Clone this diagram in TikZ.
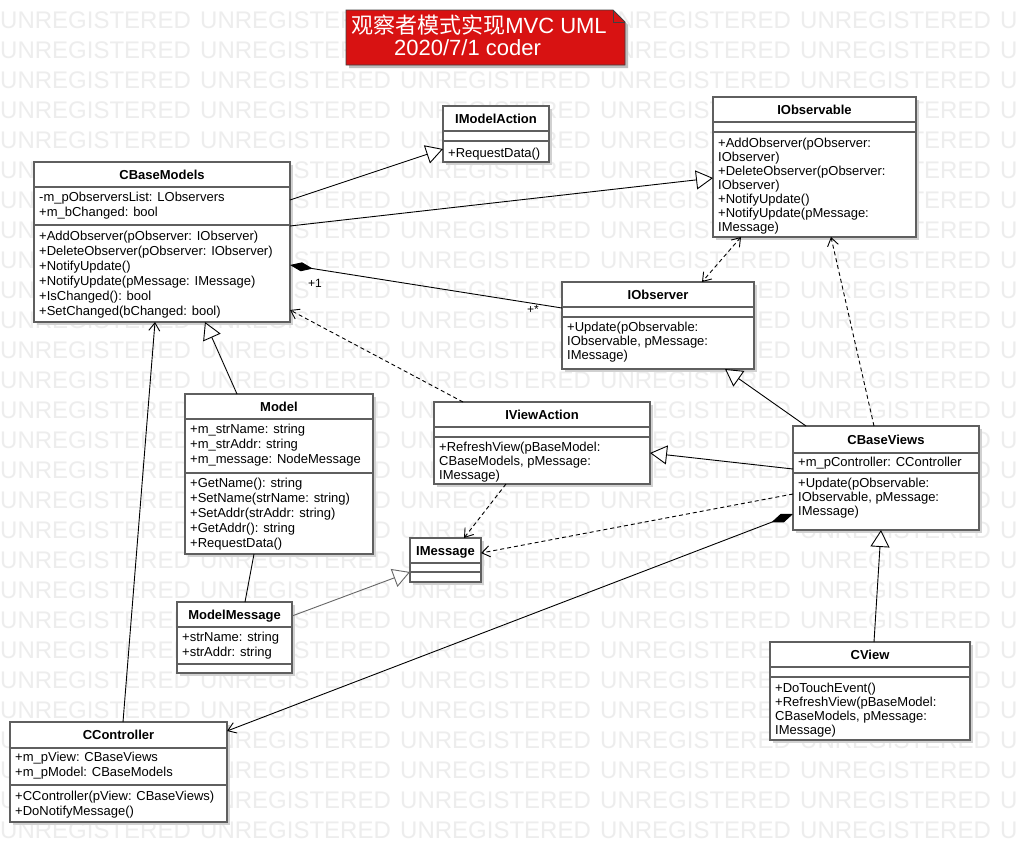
\documentclass[tikz,border=0pt]{standalone}
\usepackage{fontspec}
\setmainfont{Liberation Sans}
\newfontfamily\cjk{Noto Sans CJK SC}
\usetikzlibrary{arrows.meta,shadows,calc}

\definecolor{wm}{RGB}{237,237,237}
\definecolor{boxline}{RGB}{95,95,95}
\definecolor{notered}{RGB}{216,18,18}

\tikzset{
  clsbox/.style={draw=boxline, line width=1.3pt, fill=white, inner sep=0pt, outer sep=0pt,
    drop shadow={shadow xshift=3pt, shadow yshift=-3pt, fill=black!18, opacity=1}},
  sepl/.style={draw=boxline, line width=1.3pt},
  memtext/.style={font=\fontsize{13}{15}\selectfont, inner sep=0pt, anchor=base west},
  hdrtext/.style={font=\fontsize{13}{15}\selectfont\bfseries, inner sep=0pt, anchor=base},
  wmtext/.style={font=\fontsize{24}{26}\selectfont, text=wm, inner sep=0pt, anchor=base west},
  titletext/.style={font=\fontsize{22}{24}\selectfont, text=white, inner sep=0pt, anchor=base},
  lbl/.style={font=\fontsize{12}{14}\selectfont, inner sep=0pt},
  conn/.style={draw=black, line width=0.9pt},
  realz/.style={conn, -{Triangle[length=17pt,width=19pt,fill=white]}},
  dep/.style={conn, dash pattern=on 4pt off 3pt, -{Straight Barb[length=8pt,width=11pt]}},
  dep2/.style={conn, dash pattern=on 4pt off 3pt, {Straight Barb[length=8pt,width=11pt]}-{Straight Barb[length=8pt,width=11pt]}},
  assoc/.style={conn, -{Straight Barb[length=8pt,width=11pt]}},
  compo/.style={conn, {Diamond[length=23pt,width=9pt]}-},
  compoarr/.style={conn, {Diamond[length=23pt,width=9pt]}-{Straight Barb[length=8pt,width=11pt]}},
}

\newcommand{\umlclass}[5]{%
  \node[clsbox, minimum width={(#4-#2)*1pt}, minimum height={(#5-#3)*1pt}] (#1) at ({(#2+#4)/2},{(#3+#5)/2}) {};}
\newcommand{\sepline}[2]{\draw[sepl] (#1.west |- 0,#2) -- (#1.east |- 0,#2);}
\newcommand{\hdr}[3]{\node[hdrtext] (#1-name) at (#1.center |- 0,#2) {#3};}
\newcommand{\members}[5]{%
  \foreach \t [count=\i from 0] in {#5}{%
    \node[memtext] (#1-\i) at ($(#2.west |- 0,#3)+(5,{#4*\i})$) {\t};}}

\begin{document}
\begin{tikzpicture}[x=1pt,y=-1pt]
\useasboundingbox (0,0) rectangle (1019,862);
\fill[white] (0,0) rectangle (1019,862);

% watermark
\foreach \r in {0,...,27}{\foreach \c in {0,...,5}{%
  \node[wmtext] (wm-\r-\c) at ({\c*200},{28+30*\r}) {UNREGISTERED};}}

% title note
\fill[black!25] (349,13) -- (616,13) -- (628,25) -- (628,68) -- (349,68) -- cycle;
\draw[draw=black!75, fill=notered, line width=0.8pt] (346,10) -- (613,10) -- (625,22) -- (625,65) -- (346,65) -- cycle;
\draw[draw=black!75, line width=0.8pt] (613,10) -- (613,22) -- (625,22);
\node[titletext] (t1) at (479,33.5) {{\cjk 观察者模式实现}MVC UML};
\node[titletext] (t2) at (467.5,55) {2020/7/1 coder};

% IModelAction
\umlclass{ima}{443}{106}{549}{162}
\sepline{ima}{131}\sepline{ima}{141}
\hdr{ima}{123.2}{IModelAction}
\members{imam}{ima}{157}{15}{+RequestData()}

% CBaseModels
\umlclass{cbm}{34}{162}{290}{322}
\sepline{cbm}{187}\sepline{cbm}{225}
\hdr{cbm}{179.2}{CBaseModels}
\members{cbma}{cbm}{201.5}{15}{-m\_pObserversList: LObservers,+m\_bChanged: bool}
\members{cbmm}{cbm}{240.5}{15}{+AddObserver(pObserver: IObserver),+DeleteObserver(pObserver: IObserver),+NotifyUpdate(),+NotifyUpdate(pMessage: IMessage),+IsChanged(): bool,+SetChanged(bChanged: bool)}

% IObservable
\umlclass{iob}{713}{97}{916}{237}
\sepline{iob}{122}\sepline{iob}{132}
\hdr{iob}{114.2}{IObservable}
\members{iobm}{iob}{147}{14.1}{+AddObserver(pObserver:,IObserver),+DeleteObserver(pObserver:,IObserver),+NotifyUpdate(),+NotifyUpdate(pMessage:,IMessage)}

% IObserver
\umlclass{ior}{562}{282}{754}{369}
\sepline{ior}{307}\sepline{ior}{317}
\hdr{ior}{299.2}{IObserver}
\members{iorm}{ior}{331.5}{14}{+Update(pObservable:,{IObservable, pMessage:},IMessage)}

% Model
\umlclass{mdl}{185}{394}{373}{554}
\sepline{mdl}{419}\sepline{mdl}{473}
\hdr{mdl}{411.2}{Model}
\members{mdla}{mdl}{433}{15}{+m\_strName: string,+m\_strAddr: string,+m\_message: NodeMessage}
\members{mdlm}{mdl}{487}{15}{+GetName(): string,+SetName(strName: string),+SetAddr(strAddr: string),+GetAddr(): string,+RequestData()}

% IViewAction
\umlclass{iva}{434}{402}{650}{484}
\sepline{iva}{427}\sepline{iva}{437}
\hdr{iva}{419.2}{IViewAction}
\members{ivam}{iva}{451.5}{14}{+RefreshView(pBaseModel:,{CBaseModels, pMessage:},IMessage)}

% IMessage
\umlclass{imsg}{410}{538}{481}{582}
\sepline{imsg}{563}\sepline{imsg}{572}
\hdr{imsg}{555.2}{IMessage}

% CBaseViews
\umlclass{cbv}{793}{426}{979}{530}
\sepline{cbv}{453}\sepline{cbv}{473}
\hdr{cbv}{444.2}{CBaseViews}
\members{cbva}{cbv}{466}{15}{+m\_pController: CController}
\members{cbvm}{cbv}{487}{14}{+Update(pObservable:,{IObservable, pMessage:},IMessage)}

% ModelMessage
\umlclass{mms}{177}{602}{292}{673}
\sepline{mms}{627}\sepline{mms}{664}
\hdr{mms}{619.2}{ModelMessage}
\members{mmsa}{mms}{641.5}{14.5}{+strName: string,+strAddr: string}

% CView
\umlclass{cvw}{770}{642}{970}{740}
\sepline{cvw}{667}\sepline{cvw}{677}
\hdr{cvw}{659.2}{CView}
\members{cvwm}{cvw}{692.5}{14}{+DoTouchEvent(),+RefreshView(pBaseModel:,{CBaseModels, pMessage:},IMessage)}

% CController
\umlclass{cct}{10}{722}{227}{822}
\sepline{cct}{748}\sepline{cct}{785}
\hdr{cct}{739.7}{CController}
\members{ccta}{cct}{761.5}{15}{+m\_pView: CBaseViews,+m\_pModel: CBaseModels}
\members{cctm}{cct}{800}{15}{+CController(pView: CBaseViews),+DoNotifyMessage()}

% connectors
\draw[realz] (cbm.east |- 0,200) -- (ima.west |- 0,149);
\draw[realz] (cbm.east |- 0,226) -- (iob.west |- 0,178);
\draw[compo] (cbm.east |- 0,265) -- (ior.west |- 0,308);
\node[lbl] (lone) at (315,283) {+1};
\node[lbl] (lmany) at (533,309) {+*};
\draw[dep2] (iob.south -| 741,0) -- (ior.north -| 702,0);
\draw[dep] (cbv.north -| 874,0) -- (iob.south -| 831,0);
\draw[dep] (iva.north -| 463,0) -- (cbm.east |- 0,310);
\draw[realz] (mdl.north -| 237,0) -- (cbm.south -| 205,0);
\draw[assoc] (cct.north -| 123,0) -- (cbm.south -| 155,0);
\draw[conn] (mdl.south -| 254,0) -- (mms.north -| 245,0);
\draw[realz, draw=black!60] (mms.east |- 0,616) -- (imsg.west |- 0,572);
\draw[dep] (iva.south -| 506,0) -- (imsg.north -| 464,0);
\draw[dep] (cbv.west |- 0,494) -- (imsg.east |- 0,553);
\draw[realz] (cbv.west |- 0,469) -- (iva.east |- 0,453);
\draw[realz] (cbv.north -| 806,0) -- (ior.south -| 725,0);
\draw[compoarr] (cbv.west |- 0,514) -- (cct.east |- 0,731);
\draw[realz] (cvw.north -| 874,0) -- (cbv.south -| 881,0);
\end{tikzpicture}
\end{document}
